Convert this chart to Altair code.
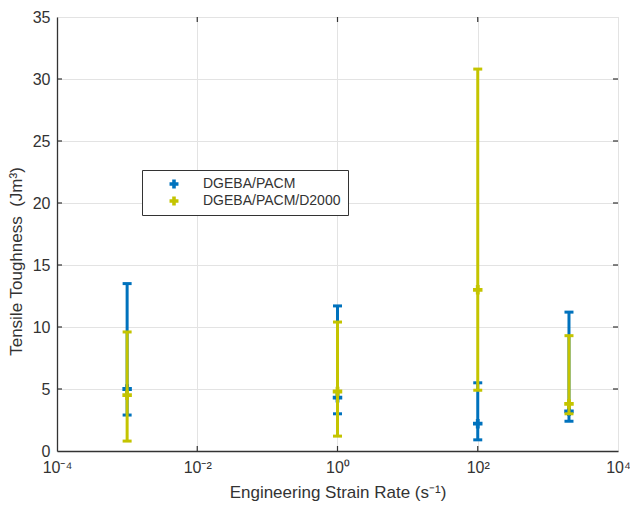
import altair as alt
import pandas as pd

# data
rates = [1e-3, 1.0, 100.0, 2000.0]
series_names = ["DGEBA/PACM", "DGEBA/PACM/D2000"]
blue_mean = [5.0, 4.3, 2.2, 3.2]
blue_low = [2.9, 3.0, 0.9, 2.4]
blue_high = [13.5, 11.7, 5.5, 11.2]
yel_mean = [4.5, 4.8, 13.0, 3.8]
yel_low = [0.8, 1.2, 4.9, 3.0]
yel_high = [9.6, 10.4, 30.8, 9.3]
colors = ["#0072BD", "#C4C400"]

x_ticks = [1e-4, 1e-2, 1.0, 1e2, 1e4]
x_inner_ticks = [1e-2, 1.0, 1e2]
y_ticks = [0, 5, 10, 15, 20, 25, 30, 35]
y_inner_ticks = [5, 10, 15, 20, 25, 30]

W, H = 561, 434
FONT = "Liberation Sans"
TXT = "#333333"
AX = "#333333"

def frame(mean, low, high, name):
    return pd.DataFrame({"rate": rates, "val": mean, "low": low, "high": high, "series": name})

df_b = frame(blue_mean, blue_low, blue_high, series_names[0])
df_y = frame(yel_mean, yel_low, yel_high, series_names[1])

label_expr = ("datum.value == 1e-4 ? '10⁻⁴' : datum.value == 1e-2 ? '10⁻²' : "
              "datum.value == 1 ? '10⁰' : datum.value == 100 ? '10²' : '10⁴'")

x_scale = alt.Scale(type="log", domain=[1e-4, 1e4], nice=False)
y_scale = alt.Scale(domain=[0, 35], nice=False, zero=True)

x_enc = alt.X("rate:Q", scale=x_scale,
              axis=alt.Axis(values=x_ticks, labelExpr=label_expr, title="Engineering Strain Rate (s⁻¹)",
                            ticks=False, grid=True, gridColor="#e3e3e3", labelPadding=8,
                            labelFontSize=16, titleFontSize=17, titlePadding=9,
                            labelFont=FONT, titleFont=FONT, labelColor=TXT, titleColor=TXT,
                            titleFontWeight="normal", domainColor=AX, domainWidth=1.3,
                            labelFlush=False))
y_enc = alt.Y("val:Q", scale=y_scale,
              axis=alt.Axis(values=y_ticks, title="Tensile Toughness\u00a0\u00a0(Jm³)", ticks=False,
                            grid=True, gridColor="#e3e3e3", labelPadding=7, labelFontSize=16,
                            titleFontSize=17, titlePadding=7, titleY=244, labelFont=FONT, titleFont=FONT,
                            labelColor=TXT, titleColor=TXT, titleFontWeight="normal",
                            domainColor=AX, domainWidth=1.3, labelFlush=False))

color_enc = alt.Color("series:N", scale=alt.Scale(domain=series_names, range=colors),
                      legend=alt.Legend(title=None, orient="none", legendX=85, legendY=153,
                                        symbolType="cross", symbolSize=80, symbolStrokeWidth=0,
                                        labelFont=FONT, labelFontSize=14, labelColor=TXT,
                                        padding=7, symbolOffset=18, labelOffset=22,
                                        strokeColor="#333333", fillColor="white",
                                        rowPadding=3))

def series_layers(df, col):
    base = alt.Chart(df)
    rule = base.mark_rule(strokeWidth=3, color=col, opacity=1).encode(
        x=x_enc, y=alt.Y("low:Q", scale=y_scale), y2="high:Q")
    cap_lo = base.mark_tick(orient="horizontal", size=9, thickness=3, color=col, opacity=1).encode(
        x=alt.X("rate:Q", scale=x_scale), y=alt.Y("low:Q", scale=y_scale))
    cap_hi = base.mark_tick(orient="horizontal", size=9, thickness=3, color=col, opacity=1).encode(
        x=alt.X("rate:Q", scale=x_scale), y=alt.Y("high:Q", scale=y_scale))
    pt = base.mark_point(shape="cross", filled=True, size=90, opacity=1, strokeWidth=0).encode(
        x=alt.X("rate:Q", scale=x_scale), y=y_enc, color=color_enc)
    return [rule, cap_lo, cap_hi, pt]

# inward ticks on the box
yt = pd.DataFrame({"val": y_inner_ticks})
xt = pd.DataFrame({"rate": x_inner_ticks})
tick_style = dict(color=AX, strokeWidth=1.2)
yl = alt.Chart(yt).mark_rule(**tick_style).encode(y=alt.Y("val:Q", scale=y_scale), x=alt.value(0), x2=alt.value(5))
yr = alt.Chart(yt).mark_rule(**tick_style).encode(y=alt.Y("val:Q", scale=y_scale), x=alt.value(W - 5), x2=alt.value(W))
xb = alt.Chart(xt).mark_rule(**tick_style).encode(x=alt.X("rate:Q", scale=x_scale), y=alt.value(H), y2=alt.value(H - 5))
xtp = alt.Chart(xt).mark_rule(**tick_style).encode(x=alt.X("rate:Q", scale=x_scale), y=alt.value(0), y2=alt.value(5))

chart = alt.layer(
    *series_layers(df_b, colors[0]),
    *series_layers(df_y, colors[1]),
    yl, yr, xb, xtp,
).properties(
    width=W, height=H,
    autosize=alt.AutoSizeParams(type="none"),
    padding={"left": 57, "top": 17, "right": 12, "bottom": 60},
).configure_view(stroke=AX, strokeWidth=1.3).configure(background="white")

chart.save("out.html", embed_options={"renderer": "svg", "actions": False})
